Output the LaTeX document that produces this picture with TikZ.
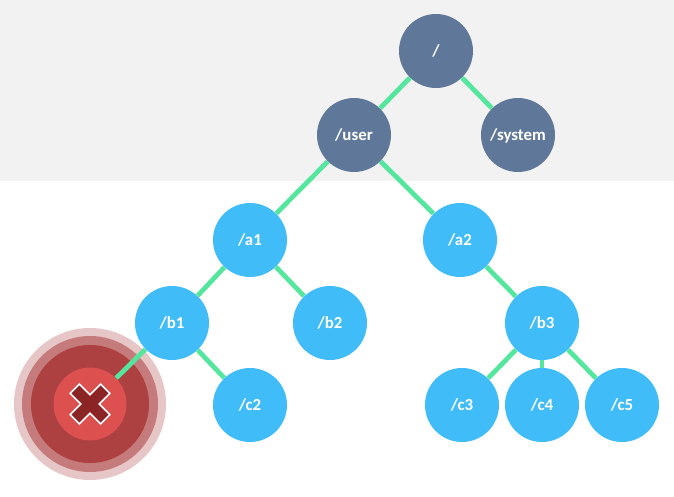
\documentclass[tikz,border=0pt]{standalone}
\usepackage{fontspec}
\setmainfont{Carlito}
\usepackage{tikz}
\definecolor{myslate}{HTML}{5F7799}
\definecolor{myblue}{HTML}{40BCF9}
\definecolor{mygreen}{HTML}{54E69D}
\definecolor{myband}{HTML}{F2F2F2}
\definecolor{myred}{HTML}{DC5050}
\definecolor{myredring}{HTML}{AD4040}
\definecolor{myredmid}{HTML}{C57B7B}
\definecolor{myredout}{HTML}{E6C6C6}
\definecolor{mycross}{HTML}{8B2525}
\tikzset{
	defaultnode/.style={
			circle,
			draw=none,
			fill=myblue,
			text=white,
			font=\bfseries\fontsize{9.6pt}{11pt}\selectfont,
			text depth=0pt,
			minimum size=14.8mm,
			inner sep=0pt
		},
	systemnode/.style={
			defaultnode,
			fill=myslate
		},
	failnode/.style={
			circle,
			draw=none,
			inner sep=0pt
		},
	link/.style={
			line width=2.7pt,
			mygreen
		}
}
\begin{document}
\begin{tikzpicture}
\useasboundingbox (0,0) rectangle (13.48,9.92);
\fill[myband] (0,6.3) rectangle (13.48,9.92);

\node[systemnode] (root) at (8.72,8.9)  { / };
\node[systemnode] (user) at (7.08,7.22)  { /user };
\node[systemnode] (system) at (10.36,7.22)  { /system };
\node[defaultnode] (a1) at (5,5.12)  { /a1 };
\node[defaultnode] (a2) at (9.2,5.12)  { /a2 };
\node[defaultnode] (b1) at (3.44,3.46)  { /b1 };
\node[defaultnode] (b2) at (6.6,3.46)  { /b2 };
\node[defaultnode] (b3) at (10.84,3.46)  { /b3 };
\node[defaultnode] (c2) at (5,1.82)  { /c2 };
\node[defaultnode] (c3) at (9.24,1.82)  { /c3 };
\node[defaultnode] (c4) at (10.84,1.82)  { /c4 };
\node[defaultnode] (c5) at (12.44,1.82)  { /c5 };

% failed node, rings first
\node[failnode, fill=myredout, minimum size=30.4mm] (ringout) at (1.8,1.84) {};
\node[failnode, fill=myredmid, minimum size=27.2mm] (ringmid) at (ringout) {};
\node[failnode, fill=myredring, minimum size=23.6mm] (ringin) at (ringout) {};
\node[failnode, fill=myred, minimum size=14.6mm] (c1) at (ringout) {};
\draw[draw=white, line width=0.9pt, fill=mycross, shift={(c1)}, rotate=45]
	(-0.13,-0.43) -- (0.13,-0.43) -- (0.13,-0.13) -- (0.43,-0.13) -- (0.43,0.13) -- (0.13,0.13)
	-- (0.13,0.43) -- (-0.13,0.43) -- (-0.13,0.13) -- (-0.43,0.13) -- (-0.43,-0.13) -- (-0.13,-0.13) -- cycle;

\draw[link] (root) -- (user);
\draw[link] (root) -- (system);
\draw[link] (user) -- (a1);
\draw[link] (user) -- (a2);
\draw[link] (a1) -- (b1);
\draw[link] (a1) -- (b2);
\draw[link] (a2) -- (b3);
\draw[link] (b1) -- (c1);
\draw[link] (b1) -- (c2);
\draw[link] (b3) -- (c3);
\draw[link] (b3) -- (c4);
\draw[link] (b3) -- (c5);
\end{tikzpicture}
\end{document}
